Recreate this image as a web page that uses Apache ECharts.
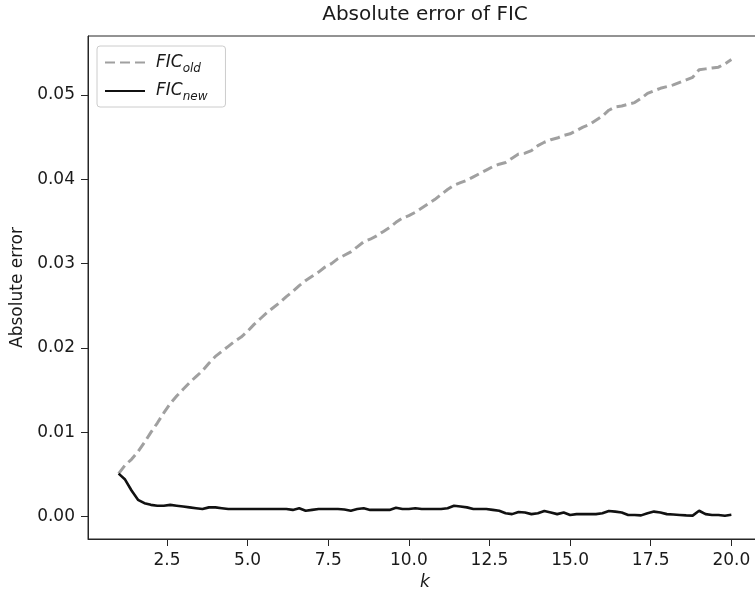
<!DOCTYPE html>
<html>
<head>
<meta charset="utf-8">
<script src="https://cdn.jsdelivr.net/npm/echarts@6/dist/echarts.min.js"></script>
<style>
html,body{margin:0;padding:0;background:#fff;}
#chart{width:755px;height:594px;}
</style>
</head>
<body>
<div id="chart"></div>
<script>
const kValues = [
  1.0,1.2,1.4,1.6,1.8,2.0,2.2,2.4,2.6,2.8,
  3.0,3.2,3.4,3.6,3.8,4.0,4.2,4.4,4.6,4.8,
  5.0,5.2,5.4,5.6,5.8,6.0,6.2,6.4,6.6,6.8,
  7.0,7.2,7.4,7.6,7.8,8.0,8.2,8.4,8.6,8.8,
  9.0,9.2,9.4,9.6,9.8,10.0,10.2,10.4,10.6,10.8,
  11.0,11.2,11.4,11.6,11.8,12.0,12.2,12.4,12.6,12.8,
  13.0,13.2,13.4,13.6,13.8,14.0,14.2,14.4,14.6,14.8,
  15.0,15.2,15.4,15.6,15.8,16.0,16.2,16.4,16.6,16.8,
  17.0,17.2,17.4,17.6,17.8,18.0,18.2,18.4,18.6,18.8,
  19.0,19.2,19.4,19.6,19.8,20.0
];
const ficOld = [
  0.0051,0.0061,0.0068,0.0077,0.0088,0.0100,0.0111,0.0123,0.0134,0.0143,
  0.0151,0.0159,0.0166,0.0173,0.0182,0.0190,0.0196,0.0202,0.0208,0.0213,
  0.0220,0.0228,0.0235,0.0242,0.0248,0.0254,0.0261,0.0267,0.0274,0.0280,
  0.0285,0.0290,0.0296,0.0300,0.0306,0.0310,0.0314,0.0320,0.0326,0.0329,
  0.0333,0.0338,0.0343,0.0349,0.0354,0.0357,0.0361,0.0366,0.0371,0.0376,
  0.0382,0.0388,0.0393,0.0396,0.0399,0.0403,0.0407,0.0411,0.0415,0.0418,
  0.0420,0.0425,0.0430,0.0431,0.0434,0.0440,0.0444,0.0447,0.0449,0.0452,
  0.0454,0.0458,0.0462,0.0465,0.0470,0.0475,0.0482,0.0486,0.0487,0.0489,
  0.0491,0.0496,0.0502,0.0505,0.0508,0.0510,0.0512,0.0515,0.0518,0.0521,
  0.0530,0.0531,0.0532,0.0533,0.0537,0.0542
];
const ficNew = [
  0.0051,0.0044,0.0031,0.0020,0.0016,0.0014,0.0013,0.0013,0.0014,0.0013,
  0.0012,0.0011,0.0010,0.0009,0.0011,0.0011,0.0010,0.0009,0.0009,0.0009,
  0.0009,0.0009,0.0009,0.0009,0.0009,0.0009,0.0009,0.0008,0.0010,0.0007,
  0.0008,0.0009,0.0009,0.0009,0.0009,0.00085,0.0007,0.0009,0.0010,0.0008,
  0.0008,0.0008,0.0008,0.00105,0.0009,0.0009,0.0010,0.0009,0.0009,0.0009,
  0.0009,0.0010,0.0013,0.0012,0.0011,0.0009,0.0009,0.0009,0.0008,0.0007,
  0.0004,0.0003,0.00056,0.0005,0.0003,0.0004,0.00068,0.0005,0.0003,0.0005,
  0.0002,0.0003,0.0003,0.0003,0.0003,0.0004,0.00068,0.0006,0.0005,0.0002,
  0.0002,0.00015,0.0004,0.0006,0.0005,0.0003,0.00025,0.0002,0.00015,0.00012,
  0.0007,0.0003,0.0002,0.0002,0.0001,0.00022
];
const xTicks = [2.5,5.0,7.5,10.0,12.5,15.0,17.5,20.0];
const yTicks = [0.00,0.01,0.02,0.03,0.04,0.05];
const seriesNames = ['FIC_old','FIC_new'];

const FONT = 'DejaVu Sans';
const AX = '#262626';
const chart = echarts.init(document.getElementById('chart'), null, {renderer:'canvas'});

const axisCommon = {
  axisLine:{show:true, onZero:false, lineStyle:{color:AX, width:1}},
  splitLine:{show:false},
};

chart.setOption({
  backgroundColor:'#ffffff',
  animation:false,
  title:{
    text:'Absolute error of FIC',
    left:425, top:5, textAlign:'center',
    padding:0,
    textStyle:{fontFamily:FONT, fontSize:20, fontWeight:'normal', color:'#1a1a1a'}
  },
  grid:{left:88, top:36, width:674, height:503, outerBoundsMode:'none', containLabel:false,
        show:true, borderColor:AX, borderWidth:1, backgroundColor:'transparent'},
  legend:{
    orient:'vertical',
    left:97, top:46,
    padding:[8,18,4,7],
    itemGap:8,
    itemWidth:40,
    itemHeight:14,
    borderColor:'#cccccc', borderWidth:1, borderRadius:3,
    backgroundColor:'rgba(255,255,255,0.8)',
    itemStyle:{color:'transparent', borderColor:'transparent', borderWidth:0, opacity:0},
    data:seriesNames,
    formatter:function(name){
      const parts = name.split('_');
      return '{i|' + parts[0] + '}{s|' + parts[1] + '}';
    },
    textStyle:{
      fontFamily:FONT, color:'#1a1a1a',
      rich:{
        i:{fontFamily:FONT, fontStyle:'italic', fontSize:17, lineHeight:24, padding:[0,0,0,6], color:'#1a1a1a'},
        s:{fontFamily:FONT, fontStyle:'italic', fontSize:12, lineHeight:12, verticalAlign:'bottom', color:'#1a1a1a'}
      }
    }
  },
  xAxis:Object.assign({
    type:'value', min:0.05, max:20.95,
    name:'k', nameLocation:'middle', nameGap:34,
    nameTextStyle:{fontFamily:FONT, fontStyle:'italic', fontSize:17, color:'#1a1a1a'},
    axisTick:{show:true, inside:false, length:7, lineStyle:{color:AX, width:1}, customValues:xTicks},
    axisLabel:{
      show:true, margin:13, fontFamily:FONT, fontSize:17, color:'#1a1a1a',
      customValues:xTicks,
      formatter:function(v){return v.toFixed(1);}
    }
  }, axisCommon),
  yAxis:Object.assign({
    type:'value', min:-0.00265, max:0.0570,
    name:'Absolute error', nameLocation:'middle', nameGap:62, nameRotate:90,
    nameTextStyle:{fontFamily:FONT, fontSize:17, color:'#1a1a1a'},
    axisTick:{show:true, inside:false, length:7, lineStyle:{color:AX, width:1}, customValues:yTicks},
    axisLabel:{
      show:true, margin:13, fontFamily:FONT, fontSize:17, color:'#1a1a1a',
      customValues:yTicks,
      formatter:function(v){return v.toFixed(2);}
    }
  }, axisCommon),
  series:[
    {
      name:seriesNames[0], type:'line', symbol:'none', smooth:false,
      data:kValues.map((k,i)=>[k, ficOld[i]]),
      lineStyle:{color:'#a0a0a0', width:3, type:[10,5]},
      itemStyle:{color:'#a0a0a0'},
      z:2
    },
    {
      name:seriesNames[1], type:'line', symbol:'none', smooth:false,
      data:kValues.map((k,i)=>[k, ficNew[i]]),
      lineStyle:{color:'#111111', width:2.6},
      itemStyle:{color:'#111111'},
      z:3
    }
  ]
});
</script>
</body>
</html>
